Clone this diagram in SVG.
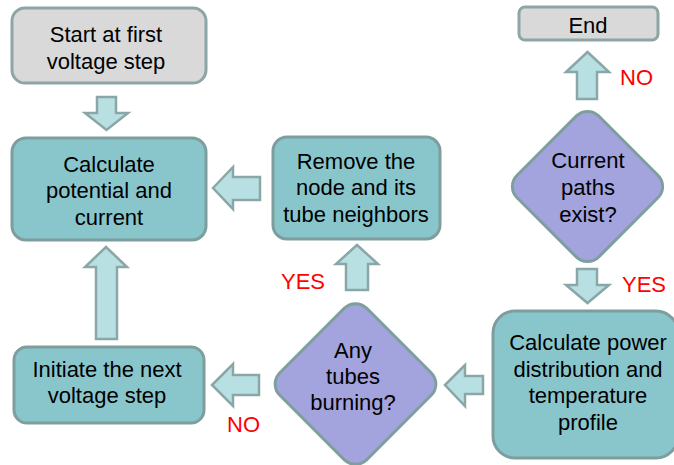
<svg xmlns="http://www.w3.org/2000/svg" width="674" height="465" viewBox="0 0 674 465">
<style>
text{font-family:"Liberation Sans",Arial,sans-serif;font-size:22px;fill:#000;text-anchor:middle}
.lbl{fill:#ff0000;font-size:22px;text-anchor:start}
.gray{fill:#d9d9d9;stroke:#8ea5a5;stroke-width:3}
.teal{fill:#89c6cc;stroke:#7e9e9e;stroke-width:3}
.dia{fill:#a3a3dd;stroke:#7f9f9f;stroke-width:3}
.arr{fill:#b8e0e2;stroke:#8aa6a6;stroke-width:2.5;stroke-linejoin:miter}
</style>
<rect width="674" height="465" fill="#fff"/>
<g id="connectors">
<polygon class="arr" points="97,97 116,97 116,113 128,113 106.5,130 85,113 97,113"/>
<polygon class="arr" points="106,247 127,267 117,267 117,339 96,339 96,267 85,267"/>
<polygon class="arr" points="213,188 233,167 233,177 260,177 260,200 233,200 233,209"/>
<polygon class="arr" points="357,245 378,264 368,264 368,290 346,290 346,264 336,264"/>
<polygon class="arr" points="587.5,52 609,72 597,72 597,99 577,99 577,72 566,72"/>
<polygon class="arr" points="577,269 597,269 597,285 609,285 587.5,303 566,285 577,285"/>
<polygon class="arr" points="445,385 465,365 465,376 483,376 483,394 465,394 465,406"/>
<polygon class="arr" points="212,385 233,364 233,375 259,375 259,395 233,395 233,406"/>
<text class="lbl" x="281" y="289">YES</text>
<text class="lbl" x="620" y="85">NO</text>
<text class="lbl" x="622" y="292">YES</text>
<text class="lbl" x="227" y="432">NO</text>
</g>
<g id="start">
<rect class="gray" x="12" y="8" width="194" height="75" rx="13"/>
<text x="106" y="42">Start at first</text>
<text x="106" y="69">voltage step</text>
</g>
<g id="calc-potential">
<rect class="teal" x="12" y="138" width="194" height="102" rx="14"/>
<text x="109" y="172">Calculate</text>
<text x="109" y="198">potential and</text>
<text x="109" y="225">current</text>
</g>
<g id="remove">
<rect class="teal" x="273" y="137" width="167" height="102" rx="14"/>
<text x="356" y="169">Remove the</text>
<text x="356" y="195">node and its</text>
<text x="356" y="222">tube neighbors</text>
</g>
<g id="end">
<rect class="gray" x="519" y="7" width="139" height="33" rx="6"/>
<text x="588" y="33">End</text>
</g>
<g id="current-paths">
<rect class="dia" x="-57.8" y="-57.8" width="115.6" height="115.6" rx="16" transform="translate(587.5,186.5) rotate(45)"/>
<text x="588" y="168">Current</text>
<text x="588" y="195">paths</text>
<text x="588" y="222">exist?</text>
</g>
<g id="calc-power">
<rect class="teal" x="493" y="311" width="185" height="147" rx="22"/>
<text x="588" y="350">Calculate power</text>
<text x="588" y="377">distribution and</text>
<text x="588" y="403">temperature</text>
<text x="588" y="430">profile</text>
</g>
<g id="tubes-burning">
<rect class="dia" x="-61.5" y="-61.5" width="123" height="123" rx="16" transform="translate(355.5,384) rotate(45)"/>
<text x="353" y="358">Any</text>
<text x="353" y="384">tubes</text>
<text x="353" y="410">burning?</text>
</g>
<g id="initiate">
<rect class="teal" x="14" y="347" width="190" height="76" rx="13"/>
<text x="107" y="377">Initiate the next</text>
<text x="107" y="403">voltage step</text>
</g>
</svg>
